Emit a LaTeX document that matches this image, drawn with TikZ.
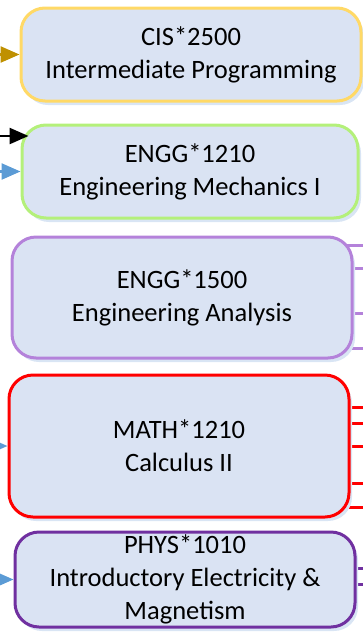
\documentclass[tikz,border=0pt]{standalone}
\usepackage{fontspec}
\setmainfont{Carlito}
\usetikzlibrary{arrows.meta,backgrounds,shadows}
\definecolor{boxfill}{HTML}{DAE3F3}
\definecolor{boxshade}{HTML}{D9E5F4}
\definecolor{goldline}{HTML}{FFD966}
\definecolor{goldarrow}{HTML}{BF9000}
\definecolor{limeline}{HTML}{B4F07A}
\definecolor{lilacline}{HTML}{B482DA}
\definecolor{plumline}{HTML}{7030A0}
\definecolor{skyarrow}{HTML}{5B9BD5}
\tikzset{course/.style={draw,line width=3pt,fill=boxfill,rounded corners=24pt,align=center,minimum width=340pt,inner sep=0pt,font=\fontsize{26.5}{33}\selectfont,drop shadow={shadow xshift=3pt,shadow yshift=-4pt,fill=boxshade,opacity=1}},feed/.style={-{Triangle[length=19pt,width=16pt]},line width=2.5pt},link/.style={line width=3pt}}

\begin{document}
\begin{tikzpicture}[x=1pt,y=-1pt]
\useasboundingbox (0,0) rectangle (363,638);
\node[course,draw=goldline,minimum height=93pt] (cis) at (191,54.5) {CIS*2500\\Intermediate Programming};
\node[course,draw=limeline,minimum width=336pt,minimum height=93pt] (mech) at (190,171.5) {ENGG*1210\\Engineering Mechanics I};
\node[course,draw=lilacline,minimum height=121pt] (anal) at (182,297.5) {ENGG*1500\\Engineering Analysis};
\node[course,draw=red,minimum height=142pt] (calc) at (179,446) {MATH*1210\\Calculus II};
\node[course,draw=plumline,minimum height=95pt] (phys) at (185,579.5) {PHYS*1010\\Introductory Electricity \&\\Magnetism};
\coordinate (cisin) at (0,54.5);
\coordinate (mechtop) at (0,136);
\coordinate (mechin) at (0,171.5);
\coordinate (calcin) at (0,446);
\coordinate (physin) at (0,579.5);
\foreach \y [count=\i] in {245,268,313,348} \coordinate (anal\i) at (363,\y);
\foreach \y [count=\i] in {407,423,446,483,507} \coordinate (calc\i) at (363,\y);
\foreach \y [count=\i] in {568,584} \coordinate (phys\i) at (363,\y);
\begin{scope}[on background layer]
\foreach \i in {1,...,4} \draw[link,lilacline] (anal.center |- anal\i) -- (anal\i);
\foreach \i in {1,...,5} \draw[link,red] (calc.center |- calc\i) -- (calc\i);
\foreach \i in {1,2} \draw[link,plumline] (phys.center |- phys\i) -- (phys\i);
\end{scope}
\draw[feed,goldarrow] (cisin) -- (cis.west);
\draw[feed,black] (mechtop) -- ([xshift=8pt]mech.west |- mechtop);
\draw[feed,skyarrow] (mechin) -- (mech.west);
\draw[feed,skyarrow] (calcin) -- (calc.west);
\draw[feed,skyarrow] (physin) -- (phys.west);
\end{tikzpicture}
\end{document}
